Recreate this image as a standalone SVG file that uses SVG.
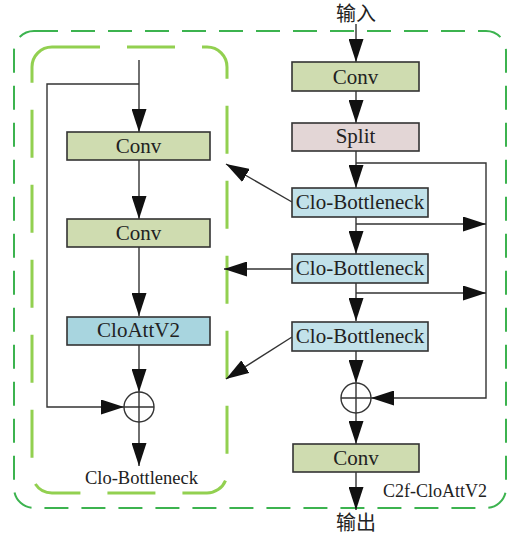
<svg xmlns="http://www.w3.org/2000/svg" width="519" height="539" viewBox="0 0 519 539">
<style>
.t{font-family:"Liberation Serif","Noto Sans CJK SC",serif;fill:#222;text-anchor:middle}
.bt{font-size:21px}
.b{stroke:#333;stroke-width:1.6}
.ln{fill:none;stroke:#333;stroke-width:1.4}
.conv{fill:#cfdcb0}
.split{fill:#e3d6d6}
.clo{fill:#c2e2ea}
.att{fill:#a8d5df}
</style>
<defs>
<marker id="a" markerUnits="userSpaceOnUse" markerWidth="23" markerHeight="15" viewBox="0 0 23 15" refX="23" refY="7.5" orient="auto">
<path d="M0,0 L23,7.5 L0,15 z" fill="#111"/>
</marker>
</defs>
<rect x="14" y="31" width="492" height="477" rx="20" fill="none" stroke="#3cb34f" stroke-width="2" stroke-dasharray="24 13"/>
<rect x="32" y="47" width="195" height="446" rx="20" fill="none" stroke="#92d050" stroke-width="3" stroke-dasharray="48 27"/>
<g id="connectors">
<path class="ln" d="M356,24 V62" marker-end="url(#a)"/>
<path class="ln" d="M356,91 V123" marker-end="url(#a)"/>
<path class="ln" d="M356,151 V188" marker-end="url(#a)"/>
<path class="ln" d="M356,217 V254" marker-end="url(#a)"/>
<path class="ln" d="M356,283 V321" marker-end="url(#a)"/>
<path class="ln" d="M356,350 V383" marker-end="url(#a)"/>
<path class="ln" d="M356,413 V444" marker-end="url(#a)"/>
<path class="ln" d="M356,472 V510" marker-end="url(#a)"/>
<path class="ln" d="M356,163 H486 V398 H371" marker-end="url(#a)"/>
<path class="ln" d="M356,224 H486" marker-end="url(#a)"/>
<path class="ln" d="M356,293 H486" marker-end="url(#a)"/>
<path class="ln" d="M292,202 L226,164" marker-end="url(#a)"/>
<path class="ln" d="M292,269 H224" marker-end="url(#a)"/>
<path class="ln" d="M292,337 L226,379" marker-end="url(#a)"/>
<path class="ln" d="M139,60 V132" marker-end="url(#a)"/>
<path class="ln" d="M139,160 V219" marker-end="url(#a)"/>
<path class="ln" d="M139,247 V316" marker-end="url(#a)"/>
<path class="ln" d="M139,345 V392" marker-end="url(#a)"/>
<path class="ln" d="M139,84 H47 V407 H124" marker-end="url(#a)"/>
<path class="ln" d="M139,422 V466" marker-end="url(#a)"/>
</g>
<g id="input"><text class="t" x="356" y="21" font-size="20">输入</text></g>
<g id="output"><text class="t" x="356" y="530" font-size="20">输出</text></g>
<g id="conv-top"><rect class="conv b" x="292" y="62" width="127" height="29"/><text class="t bt" x="355.5" y="84">Conv</text></g>
<g id="split"><rect class="split b" x="292" y="123" width="127" height="28"/><text class="t bt" x="355.5" y="143">Split</text></g>
<g id="clo-b1"><rect class="clo b" x="292" y="188" width="136" height="29"/><text class="t bt" x="360" y="209">Clo-Bottleneck</text></g>
<g id="clo-b2"><rect class="clo b" x="292" y="254" width="136" height="29"/><text class="t bt" x="360" y="275">Clo-Bottleneck</text></g>
<g id="clo-b3"><rect class="clo b" x="292" y="322" width="136" height="29"/><text class="t bt" x="360" y="343">Clo-Bottleneck</text></g>
<g id="add-right"><circle cx="356" cy="398" r="15" fill="#fff" stroke="#333" stroke-width="1.4"/><path class="ln" d="M341,398 H371 M356,383 V413"/></g>
<g id="conv-bottom"><rect class="conv b" x="293" y="444" width="126" height="28"/><text class="t bt" x="356" y="465">Conv</text></g>
<g id="label-c2f"><text class="t" x="435" y="497" font-size="18">C2f-CloAttV2</text></g>
<g id="conv-l1"><rect class="conv b" x="67" y="132" width="143" height="28"/><text class="t bt" x="138.5" y="153">Conv</text></g>
<g id="conv-l2"><rect class="conv b" x="67" y="219" width="143" height="28"/><text class="t bt" x="138.5" y="240">Conv</text></g>
<g id="cloattv2"><rect class="att b" x="67" y="317" width="143" height="28"/><text class="t bt" x="138.5" y="337">CloAttV2</text></g>
<g id="add-left"><circle cx="139" cy="407" r="15" fill="#fff" stroke="#333" stroke-width="1.4"/><path class="ln" d="M124,407 H154 M139,392 V422"/></g>
<g id="label-clo"><text class="t" x="141.5" y="484" font-size="18.5">Clo-Bottleneck</text></g>
</svg>
